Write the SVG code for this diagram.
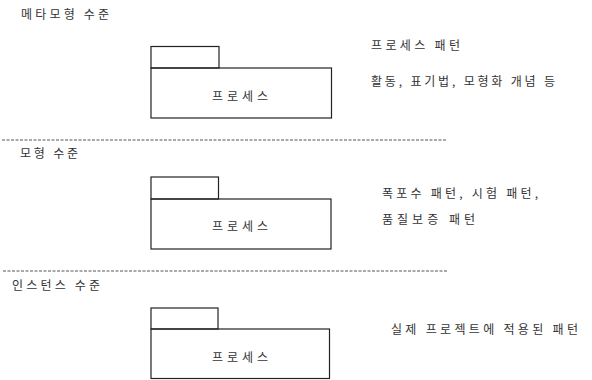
<svg xmlns="http://www.w3.org/2000/svg" width="592" height="380" viewBox="0 0 592 380">
<style>
.t{font-family:"Noto Sans CJK KR","Noto Sans",sans-serif;font-size:12px;fill:#333}
.c{text-anchor:middle}
.b{fill:none;stroke:#222;stroke-width:1.2}
.d{stroke:#555;stroke-width:1;stroke-dasharray:3 1.5;fill:none}
</style>
<rect width="592" height="380" fill="#fff"/>
<g id="separators">
<line class="d" x1="2" y1="140" x2="447" y2="140"/>
<line class="d" x1="3" y1="271" x2="448" y2="271"/>
</g>
<g id="level-labels">
<text class="t" x="21" y="18.5" textLength="88" lengthAdjust="spacing">메타모형 수준</text>
<text class="t" x="20" y="157.5" textLength="58" lengthAdjust="spacing">모형 수준</text>
<text class="t" x="12" y="289.5" textLength="88" lengthAdjust="spacing">인스턴스 수준</text>
</g>
<g id="process-meta">
<rect class="b" x="151" y="46.5" width="68" height="21.5"/>
<rect class="b" x="151" y="68" width="180.5" height="50"/>
<text class="t c" x="240" y="100.5" textLength="56" lengthAdjust="spacing">프로세스</text>
</g>
<g id="process-model">
<rect class="b" x="151" y="177" width="67.5" height="22"/>
<rect class="b" x="151" y="199" width="180" height="50"/>
<text class="t c" x="240" y="231" textLength="56" lengthAdjust="spacing">프로세스</text>
</g>
<g id="process-instance">
<rect class="b" x="151" y="308" width="67" height="21"/>
<rect class="b" x="151" y="329" width="178.5" height="49.5"/>
<text class="t c" x="240" y="361.5" textLength="56" lengthAdjust="spacing">프로세스</text>
</g>
<g id="notes">
<text class="t" x="371" y="49.5" textLength="89" lengthAdjust="spacing">프로세스 패턴</text>
<text class="t" x="371" y="86" textLength="184" lengthAdjust="spacing">활동, 표기법, 모형화 개념 등</text>
<text class="t" x="382" y="197.5" textLength="156" lengthAdjust="spacing">폭포수 패턴, 시험 패턴,</text>
<text class="t" x="382" y="223.5" textLength="93" lengthAdjust="spacing">품질보증 패턴</text>
<text class="t" x="391" y="333.5" textLength="187" lengthAdjust="spacing">실제 프로젝트에 적용된 패턴</text>
</g>
</svg>
